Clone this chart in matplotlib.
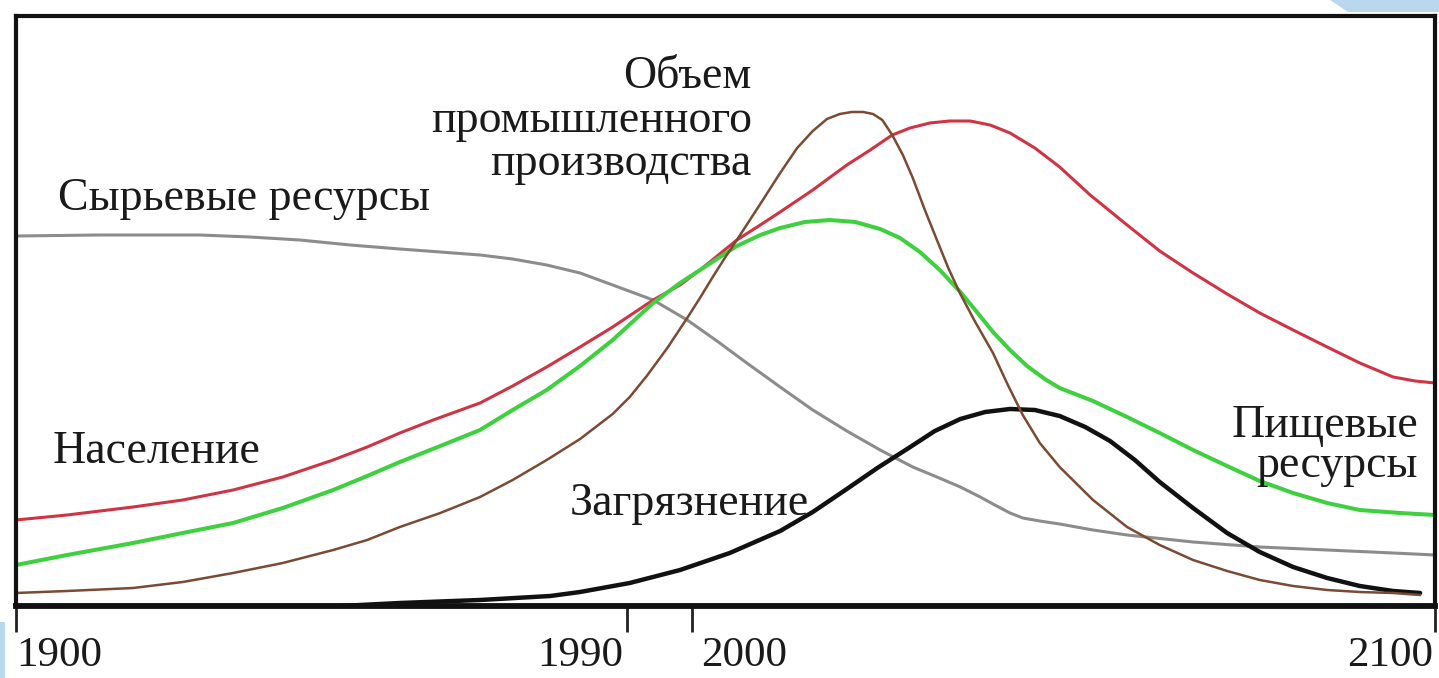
import matplotlib
matplotlib.use("Agg")
import matplotlib.pyplot as plt
from matplotlib.patches import Polygon
from matplotlib.transforms import ScaledTranslation

plt.rcParams['font.family'] = ['Liberation Serif', 'DejaVu Serif']

# ---- data (arbitrary units on y, years on x) ----
pop_years = [1900.0, 1907.2, 1916.5, 1923.5, 1930.6, 1937.6, 1944.7, 1949.5, 1954.1, 1958.8,
             1965.4, 1970.0, 1974.8, 1979.5, 1984.1, 1989.8, 1993.6, 1996.4, 2001.6, 2004.9,
             2007.7, 2012.3, 2017.1, 2020.4, 2023.5, 2026.0, 2028.8, 2031.6, 2034.5, 2037.3,
             2040.1, 2043.6, 2047.1, 2051.4, 2056.6, 2061.2, 2065.9, 2070.7, 2075.3, 2080.0,
             2084.8, 2089.4, 2094.1, 2097.2, 2100.0]
pop_vals = [81, 86, 94, 101, 111, 124, 141, 154, 168, 181,
            198, 215, 234, 254, 274, 301, 316, 331, 361, 376,
            389, 411, 436, 451, 466, 473, 478, 480, 480, 476,
            468, 453, 434, 406, 376, 350, 328, 307, 288, 271,
            254, 238, 224, 220, 218]

food_years = [1900.0, 1907.2, 1916.5, 1923.5, 1930.6, 1937.6, 1944.7, 1949.5, 1954.1, 1959.8,
              1965.4, 1970.0, 1974.8, 1979.5, 1984.1, 1989.8, 1993.6, 1996.4, 2001.6, 2004.9,
              2007.7, 2011.2, 2014.7, 2018.3, 2021.8, 2024.6, 2027.4, 2030.2, 2033.1, 2035.2,
              2037.7, 2040.1, 2042.5, 2045.0, 2047.1, 2051.8, 2056.6, 2061.2, 2065.9, 2070.7,
              2075.3, 2080.0, 2084.8, 2089.4, 2095.1, 2100.0]
food_vals = [36, 46, 58, 68, 78, 93, 111, 125, 139, 155,
             171, 191, 211, 235, 261, 298, 318, 331, 355, 366,
             373, 379, 381, 379, 372, 363, 349, 331, 309, 291,
             269, 251, 235, 222, 213, 200, 184, 168, 151, 135,
             120, 108, 98, 91, 88, 86]

ind_years = [1900.0, 1907.2, 1916.5, 1923.5, 1930.6, 1937.6, 1944.7, 1949.5, 1954.1, 1959.8,
             1965.4, 1970.0, 1974.8, 1979.5, 1984.1, 1986.5, 1988.9, 1991.8, 1994.6, 1996.4,
             1998.2, 1999.9, 2001.6, 2004.9, 2007.7, 2010.1, 2012.3, 2014.3, 2016.1, 2017.8,
             2019.4, 2020.8, 2022.1, 2023.5, 2025.0, 2026.4, 2028.1, 2029.8, 2031.4, 2033.1,
             2035.2, 2037.7, 2039.8, 2041.9, 2044.3, 2047.1, 2051.8, 2056.6, 2061.2, 2065.9,
             2070.7, 2075.3, 2080.0, 2084.8, 2089.4, 2094.1, 2097.9]
ind_vals = [8, 10, 13, 19, 28, 38, 51, 61, 74, 88,
            104, 121, 141, 162, 187, 204, 225, 253, 283, 303,
            324, 343, 361, 397, 428, 453, 470, 482, 487, 489,
            489, 487, 481, 466, 446, 423, 391, 361, 333, 307,
            279, 248, 216, 186, 158, 134, 101, 74, 56, 41,
            30, 21, 15, 11, 9, 8, 6]

res_years = [1900.0, 1911.8, 1925.9, 1933.0, 1940.0, 1947.1, 1954.1, 1959.8, 1965.4, 1970.0,
             1974.8, 1979.5, 1984.1, 1989.8, 1994.6, 1998.8, 2003.0, 2007.7, 2012.3, 2017.1,
             2021.8, 2026.4, 2029.8, 2033.1, 2035.9, 2037.7, 2040.1, 2041.9, 2044.3, 2047.1,
             2051.8, 2056.6, 2065.9, 2075.3, 2084.8, 2094.1, 2100.0]
res_vals = [365, 366, 366, 364, 361, 356, 352, 349, 346, 342,
            336, 328, 316, 301, 281, 260, 238, 214, 191, 170,
            151, 134, 124, 114, 104, 97, 88, 83, 80, 77,
            71, 66, 59, 54, 51, 48, 46]

pol_years = [1945.7, 1954.1, 1965.4, 1975.3, 1979.5, 1986.5, 1993.6, 2000.6, 2007.7, 2012.3,
             2017.1, 2021.4, 2025.6, 2029.5, 2033.1, 2036.6, 2040.1, 2043.6, 2047.1, 2050.7,
             2054.2, 2057.7, 2061.2, 2065.9, 2070.7, 2075.3, 2080.0, 2084.8, 2089.4, 2094.1,
             2097.9]
pol_vals = [-5, -2, 1, 5, 9, 18, 31, 48, 70, 89,
            112, 133, 152, 170, 182, 189, 192, 191, 185, 174,
            160, 141, 119, 93, 68, 49, 34, 23, 15, 10,
            8]

tick_pos = [1900, 1986.1, 1995.3, 2100]
tick_labels = ["1900", "1990", "2000", "2100"]

# ---- figure ----
W, H = 1439, 678
fig = plt.figure(figsize=(W / 100, H / 100), dpi=100)
fig.patch.set_facecolor('white')

# background artifacts (light blue)
fig.patches.append(Polygon([(1330 / W, 1.0), (1.0, 1.0), (1.0, 1 - 12 / H), (1348 / W, 1 - 12 / H)],
                           closed=True, transform=fig.transFigure, facecolor='#b9d8ee',
                           edgecolor='none', zorder=0))
fig.patches.append(Polygon([(0, 0), (5 / W, 0), (5 / W, 1 - 622 / H), (0, 1 - 622 / H)],
                           closed=True, transform=fig.transFigure, facecolor='#b9d8ee',
                           edgecolor='none', zorder=0))

ax = fig.add_axes([16 / W, (H - 606) / H, (1435 - 16) / W, (606 - 16) / H])
ax.set_xlim(1900, 2100)
ax.set_ylim(-5, 585)
ax.set_facecolor('white')

kw = dict(solid_capstyle='round', solid_joinstyle='round', clip_on=True)
ax.plot(res_years, res_vals, color='#8c8c8c', lw=2.2, **kw)
ax.plot(pop_years, pop_vals, color='#d03343', lw=2.2, **kw)
ax.plot(food_years, food_vals, color='#3fd03f', lw=2.9, **kw)
ax.plot(pol_years, pol_vals, color='#111111', lw=3.2, **kw)
ax.plot(ind_years, ind_vals, color='#7a4a33', lw=1.8, **kw)

for s in ['left', 'top', 'right']:
    ax.spines[s].set_linewidth(3.0)
    ax.spines[s].set_color('#111111')
ax.spines['bottom'].set_linewidth(4.2)
ax.spines['bottom'].set_color('#111111')

ax.set_yticks([])
ax.set_xticks(tick_pos, tick_labels)
ax.tick_params(axis='x', direction='out', length=19, width=2.0, color='#222222',
               labelsize=31, pad=3, labelcolor='#1a1a1a')
offsets = [(0, 'left'), (-4, 'right'), (9, 'left'), (-2, 'right')]
for lab, (dx, ha) in zip(ax.get_xticklabels(), offsets):
    lab.set_ha(ha)
    lab.set_transform(lab.get_transform() + ScaledTranslation(dx / 100, 0, fig.dpi_scale_trans))

tkw = dict(fontsize=33, color='#1a1a1a', va='baseline')
ax.text(1905.9, 391, "Сырьевые ресурсы", ha='left', **tkw)
ax.text(1905.1, 138, "Население", ha='left', **tkw)
ax.text(1978.1, 86, "Загрязнение", ha='left', **tkw)
ax.text(2003.7, 513, "Объем", ha='right', **tkw)
ax.text(2003.7, 469, "промышленного", ha='right', **tkw)
ax.text(2003.7, 426, "производства", ha='right', **tkw)
ax.text(2097.6, 164, "Пищевые", ha='right', **tkw)
ax.text(2097.6, 124, "ресурсы", ha='right', **tkw)

fig.savefig("out.png", dpi=100, facecolor='white')
